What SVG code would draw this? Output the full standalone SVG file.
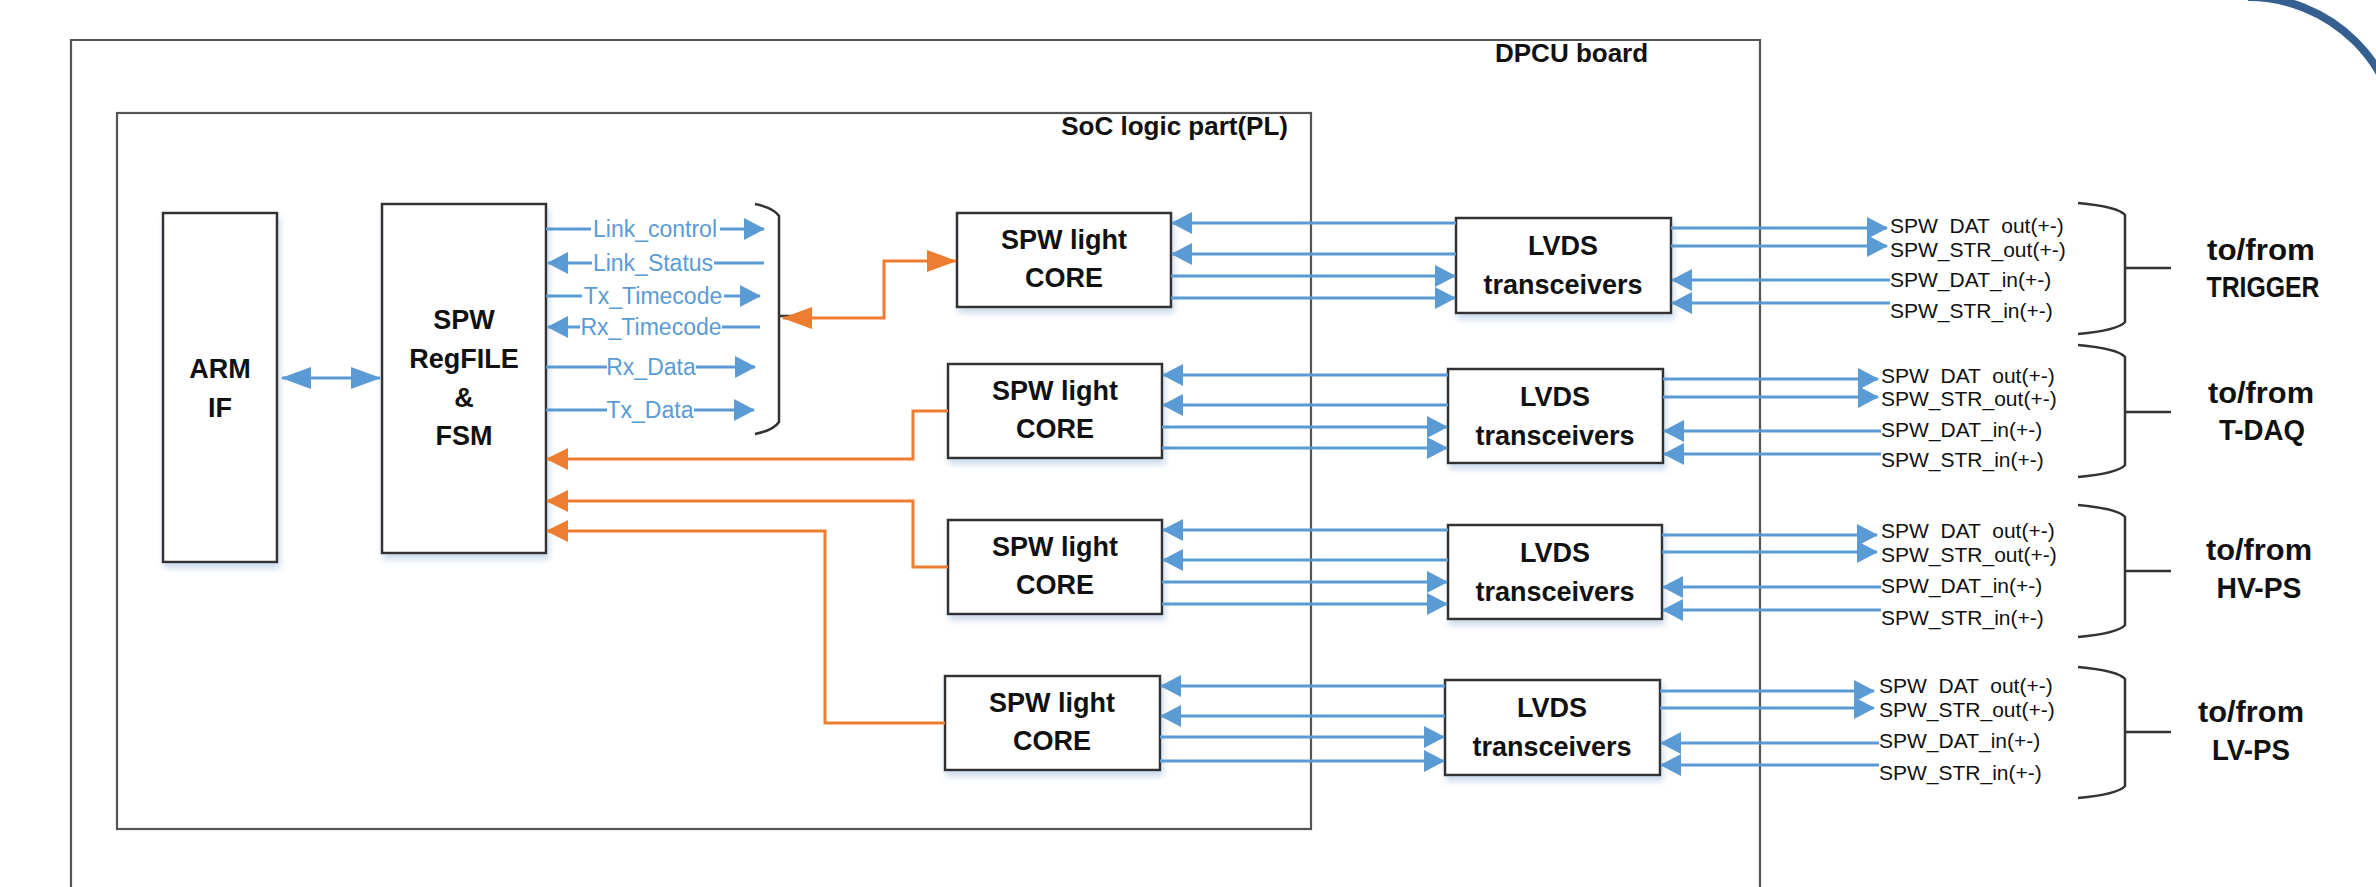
<svg xmlns="http://www.w3.org/2000/svg" width="2376" height="887" viewBox="0 0 2376 887">
<style>
.t{font-family:"Liberation Sans",Arial,sans-serif;fill:#111}
.b{font-weight:bold}
.box{fill:#fff;stroke:#333;stroke-width:2.5;filter:url(#sh)}
.frame{fill:none;stroke:#555;stroke-width:2.2}
.bl{stroke:#5B9BD5;stroke-width:3;fill:none}
.or{stroke:#ED7D31;stroke-width:3;fill:none}
.br{stroke:#333;stroke-width:2.5;fill:none}
.lbl{font-size:23px;fill:#5B9BD5}
.sig{font-size:21px;white-space:pre}
.big{font-size:27px}
.dst{font-size:29px}
</style>
<defs>
<filter id="sh" x="-10%" y="-10%" width="130%" height="130%">
<feDropShadow dx="2" dy="5" stdDeviation="3" flood-color="#a9c1e0" flood-opacity="0.6"/>
</filter>
<marker id="ab" markerUnits="userSpaceOnUse" markerWidth="21" markerHeight="22" refX="20" refY="11" orient="auto-start-reverse"><path d="M0,0 L21,11 L0,22 z" fill="#5B9BD5"/></marker>
<marker id="abL" markerUnits="userSpaceOnUse" markerWidth="30" markerHeight="22" refX="29" refY="11" orient="auto-start-reverse"><path d="M0,0 L30,11 L0,22 z" fill="#5B9BD5"/></marker>
<marker id="ao" markerUnits="userSpaceOnUse" markerWidth="22" markerHeight="22" refX="21" refY="11" orient="auto-start-reverse"><path d="M0,0 L22,11 L0,22 z" fill="#ED7D31"/></marker>
<marker id="aoL" markerUnits="userSpaceOnUse" markerWidth="30" markerHeight="22" refX="29" refY="11" orient="auto-start-reverse"><path d="M0,0 L30,11 L0,22 z" fill="#ED7D31"/></marker>
</defs>
<rect width="2376" height="887" fill="#fff"/>

<g id="dpcu-board">
<path class="frame" d="M71,890 V40 H1760 V890"/>
<text class="t b" x="1495" y="62" font-size="26">DPCU board</text>
</g>
<g id="soc-pl">
<rect class="frame" x="117" y="113" width="1194" height="716"/>
<text class="t b" x="1288" y="135" font-size="26" text-anchor="end">SoC logic part(PL)</text>
</g>

<g id="arm-if">
<rect class="box" x="163" y="213" width="114" height="349"/>
<text class="t b big" x="220" y="378" text-anchor="middle">ARM</text>
<text class="t b big" x="220" y="417" text-anchor="middle">IF</text>
</g>
<g id="regfile">
<rect class="box" x="382" y="204" width="164" height="349"/>
<text class="t b big" x="464" y="329" text-anchor="middle">SPW</text>
<text class="t b big" x="464" y="368" text-anchor="middle">RegFILE</text>
<text class="t b big" x="464" y="407" text-anchor="middle">&amp;</text>
<text class="t b big" x="464" y="445" text-anchor="middle">FSM</text>
</g>

<g id="core1">
<rect class="box" x="957" y="213" width="214" height="94"/>
<text class="t b big" x="1064" y="249" text-anchor="middle">SPW light</text>
<text class="t b big" x="1064" y="287" text-anchor="middle">CORE</text>
</g>
<g id="core2">
<rect class="box" x="948" y="364" width="214" height="94"/>
<text class="t b big" x="1055" y="400" text-anchor="middle">SPW light</text>
<text class="t b big" x="1055" y="438" text-anchor="middle">CORE</text>
</g>
<g id="core3">
<rect class="box" x="948" y="520" width="214" height="94"/>
<text class="t b big" x="1055" y="556" text-anchor="middle">SPW light</text>
<text class="t b big" x="1055" y="594" text-anchor="middle">CORE</text>
</g>
<g id="core4">
<rect class="box" x="945" y="676" width="215" height="94"/>
<text class="t b big" x="1052" y="712" text-anchor="middle">SPW light</text>
<text class="t b big" x="1052" y="750" text-anchor="middle">CORE</text>
</g>

<g id="lvds1">
<rect class="box" x="1456" y="218" width="215" height="95"/>
<text class="t b big" x="1563" y="255" text-anchor="middle">LVDS</text>
<text class="t b big" x="1563" y="294" text-anchor="middle">transceivers</text>
</g>
<g id="lvds2">
<rect class="box" x="1448" y="369" width="215" height="94"/>
<text class="t b big" x="1555" y="406" text-anchor="middle">LVDS</text>
<text class="t b big" x="1555" y="445" text-anchor="middle">transceivers</text>
</g>
<g id="lvds3">
<rect class="box" x="1448" y="525" width="214" height="94"/>
<text class="t b big" x="1555" y="562" text-anchor="middle">LVDS</text>
<text class="t b big" x="1555" y="601" text-anchor="middle">transceivers</text>
</g>
<g id="lvds4">
<rect class="box" x="1445" y="680" width="215" height="95"/>
<text class="t b big" x="1552" y="717" text-anchor="middle">LVDS</text>
<text class="t b big" x="1552" y="756" text-anchor="middle">transceivers</text>
</g>

<g id="ext-trigger">
<path class="br" d="M2078,203 C2100,205 2120,209 2125,215 V322 C2120,328 2100,332 2078,334 M2125,268 H2171"/>
<text class="t b dst" x="2261" y="260" text-anchor="middle" textLength="108" lengthAdjust="spacingAndGlyphs">to/from</text>
<text class="t b dst" x="2263" y="297" text-anchor="middle" textLength="113" lengthAdjust="spacingAndGlyphs">TRIGGER</text>
</g>
<g id="ext-tdaq">
<path class="br" d="M2078,345 C2100,347 2120,351 2125,357 V465 C2120,471 2100,475 2078,477 M2125,412 H2171"/>
<text class="t b dst" x="2261" y="403" text-anchor="middle" textLength="106" lengthAdjust="spacingAndGlyphs">to/from</text>
<text class="t b dst" x="2262" y="440" text-anchor="middle" textLength="86" lengthAdjust="spacingAndGlyphs">T-DAQ</text>
</g>
<g id="ext-hvps">
<path class="br" d="M2078,505 C2100,507 2120,511 2125,517 V625 C2120,631 2100,635 2078,637 M2125,571 H2171"/>
<text class="t b dst" x="2259" y="560" text-anchor="middle" textLength="106" lengthAdjust="spacingAndGlyphs">to/from</text>
<text class="t b dst" x="2259" y="598" text-anchor="middle" textLength="85" lengthAdjust="spacingAndGlyphs">HV-PS</text>
</g>
<g id="ext-lvps">
<path class="br" d="M2078,667 C2100,669 2120,673 2125,679 V786 C2120,792 2100,796 2078,798 M2125,732 H2171"/>
<text class="t b dst" x="2251" y="722" text-anchor="middle" textLength="106" lengthAdjust="spacingAndGlyphs">to/from</text>
<text class="t b dst" x="2251" y="760" text-anchor="middle" textLength="78" lengthAdjust="spacingAndGlyphs">LV-PS</text>
</g>

<g id="signal-bundle">
<path class="br" d="M755,204 C765,206 775,210 779,216 V422 C775,428 765,432 755,434 M779,316 H800"/>
</g>

<g id="connectors">
<path class="bl" d="M282,378 H380" marker-start="url(#abL)" marker-end="url(#abL)"/>

<path class="bl" d="M546,229 H591 M720,229 H764" marker-end="url(#ab)"/>
<path class="bl" d="M714,263 H764"/>
<path class="bl" d="M592,263 H548" marker-end="url(#ab)"/>
<path class="bl" d="M546,296 H582 M724,296 H760" marker-end="url(#ab)"/>
<path class="bl" d="M722,327 H760"/>
<path class="bl" d="M580,327 H548" marker-end="url(#ab)"/>
<path class="bl" d="M546,367 H607 M696,367 H755" marker-end="url(#ab)"/>
<path class="bl" d="M546,410 H607 M694,410 H754" marker-end="url(#ab)"/>
<text class="t lbl" x="655" y="237" text-anchor="middle">Link_control</text>
<text class="t lbl" x="653" y="271" text-anchor="middle">Link_Status</text>
<text class="t lbl" x="653" y="304" text-anchor="middle">Tx_Timecode</text>
<text class="t lbl" x="651" y="335" text-anchor="middle">Rx_Timecode</text>
<text class="t lbl" x="651" y="375" text-anchor="middle">Rx_Data</text>
<text class="t lbl" x="650" y="418" text-anchor="middle">Tx_Data</text>

<path class="or" d="M783,318 H884 V261 H956" marker-start="url(#aoL)" marker-end="url(#aoL)"/>
<path class="or" d="M948,411 H913 V459 H547" marker-end="url(#ao)"/>
<path class="or" d="M948,567 H913 V501 H547" marker-end="url(#ao)"/>
<path class="or" d="M945,723 H825 V531 H547" marker-end="url(#ao)"/>

<path class="bl" d="M1456,223 H1172" marker-end="url(#ab)"/>
<path class="bl" d="M1456,254 H1172" marker-end="url(#ab)"/>
<path class="bl" d="M1171,276 H1455" marker-end="url(#ab)"/>
<path class="bl" d="M1171,298 H1455" marker-end="url(#ab)"/>
<path class="bl" d="M1671,228 H1887" marker-end="url(#ab)"/>
<path class="bl" d="M1671,246 H1887" marker-end="url(#ab)"/>
<path class="bl" d="M1890,280 H1672" marker-end="url(#ab)"/>
<path class="bl" d="M1890,303 H1672" marker-end="url(#ab)"/>

<path class="bl" d="M1448,375 H1163" marker-end="url(#ab)"/>
<path class="bl" d="M1448,405 H1163" marker-end="url(#ab)"/>
<path class="bl" d="M1162,427 H1447" marker-end="url(#ab)"/>
<path class="bl" d="M1162,448 H1447" marker-end="url(#ab)"/>
<path class="bl" d="M1663,379 H1878" marker-end="url(#ab)"/>
<path class="bl" d="M1663,397 H1878" marker-end="url(#ab)"/>
<path class="bl" d="M1881,431 H1664" marker-end="url(#ab)"/>
<path class="bl" d="M1881,454 H1664" marker-end="url(#ab)"/>

<path class="bl" d="M1448,530 H1163" marker-end="url(#ab)"/>
<path class="bl" d="M1448,560 H1163" marker-end="url(#ab)"/>
<path class="bl" d="M1162,582 H1447" marker-end="url(#ab)"/>
<path class="bl" d="M1162,604 H1447" marker-end="url(#ab)"/>
<path class="bl" d="M1662,535 H1877" marker-end="url(#ab)"/>
<path class="bl" d="M1662,552 H1877" marker-end="url(#ab)"/>
<path class="bl" d="M1881,587 H1663" marker-end="url(#ab)"/>
<path class="bl" d="M1881,610 H1663" marker-end="url(#ab)"/>

<path class="bl" d="M1445,686 H1161" marker-end="url(#ab)"/>
<path class="bl" d="M1445,716 H1161" marker-end="url(#ab)"/>
<path class="bl" d="M1160,737 H1444" marker-end="url(#ab)"/>
<path class="bl" d="M1160,761 H1444" marker-end="url(#ab)"/>
<path class="bl" d="M1660,691 H1874" marker-end="url(#ab)"/>
<path class="bl" d="M1660,708 H1874" marker-end="url(#ab)"/>
<path class="bl" d="M1879,743 H1661" marker-end="url(#ab)"/>
<path class="bl" d="M1879,765 H1661" marker-end="url(#ab)"/>
</g>

<g id="signal-labels">
<text class="t sig" x="1890" y="233">SPW  DAT  out(+-)</text>
<text class="t sig" x="1890" y="257">SPW_STR_out(+-)</text>
<text class="t sig" x="1890" y="287">SPW_DAT_in(+-)</text>
<text class="t sig" x="1890" y="318">SPW_STR_in(+-)</text>
<text class="t sig" x="1881" y="383">SPW  DAT  out(+-)</text>
<text class="t sig" x="1881" y="406">SPW_STR_out(+-)</text>
<text class="t sig" x="1881" y="437">SPW_DAT_in(+-)</text>
<text class="t sig" x="1881" y="467">SPW_STR_in(+-)</text>
<text class="t sig" x="1881" y="538">SPW  DAT  out(+-)</text>
<text class="t sig" x="1881" y="562">SPW_STR_out(+-)</text>
<text class="t sig" x="1881" y="593">SPW_DAT_in(+-)</text>
<text class="t sig" x="1881" y="625">SPW_STR_in(+-)</text>
<text class="t sig" x="1879" y="693">SPW  DAT  out(+-)</text>
<text class="t sig" x="1879" y="717">SPW_STR_out(+-)</text>
<text class="t sig" x="1879" y="748">SPW_DAT_in(+-)</text>
<text class="t sig" x="1879" y="780">SPW_STR_in(+-)</text>
</g>

<path d="M2248,-3 A152,152 0 0 1 2400,149" fill="none" stroke="#355F91" stroke-width="8"/>
</svg>
